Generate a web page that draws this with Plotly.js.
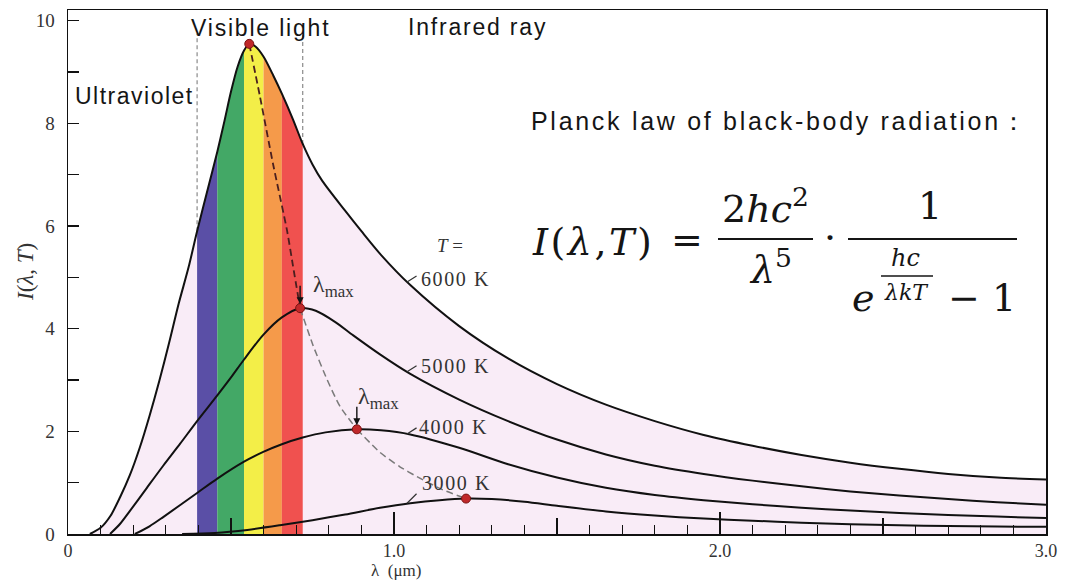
<!DOCTYPE html>
<html><head><meta charset="utf-8">
<script src="https://cdn.plot.ly/plotly-3.0.1.min.js"></script>
<style>html,body{margin:0;padding:0;background:#fff}</style>
</head><body>
<div id="chart" style="width:1067px;height:580px"></div>
<script>
// ---- data ----
const lam6000 = [0.067,0.10,0.13,0.16,0.19,0.22,0.25,0.28,0.31,0.34,0.37,0.396,0.43,0.458,0.48,0.50,0.52,0.54,0.556,0.575,0.60,0.63,0.656,0.69,0.72,0.75,0.78,0.85,0.90,0.96,1.05,1.2,1.35,1.5,1.65,1.8,1.95,2.1,2.25,2.4,2.55,2.7,2.85,3.0];
const I6000   = [0,0.12,0.35,0.72,1.15,1.68,2.3,2.98,3.72,4.5,5.2,5.9,6.75,7.45,8.05,8.62,9.1,9.42,9.55,9.5,9.3,8.93,8.58,8.08,7.6,7.2,6.88,6.3,5.9,5.44,4.85,4.05,3.42,2.92,2.52,2.2,1.93,1.72,1.54,1.39,1.27,1.17,1.10,1.06];
const lam5000 = [0.129,0.16,0.19,0.242,0.292,0.344,0.396,0.458,0.50,0.54,0.599,0.656,0.712,0.76,0.82,0.875,0.957,1.05,1.2,1.35,1.5,1.65,1.8,1.95,2.1,2.25,2.4,2.55,2.7,2.85,3.0];
const I5000   = [0,0.2,0.45,0.9,1.33,1.76,2.2,2.7,3.05,3.4,3.88,4.22,4.40,4.35,4.13,3.87,3.5,3.12,2.62,2.2,1.84,1.55,1.33,1.17,1.04,0.93,0.83,0.75,0.68,0.62,0.57];
const lam4000 = [0.205,0.25,0.292,0.396,0.458,0.54,0.599,0.656,0.72,0.79,0.886,0.96,1.05,1.2,1.35,1.5,1.65,1.8,1.95,2.1,2.25,2.4,2.55,2.7,2.85,3.0];
const I4000   = [0,0.15,0.33,0.8,1.08,1.41,1.6,1.75,1.88,1.98,2.04,2.02,1.94,1.68,1.36,1.1,0.9,0.76,0.66,0.58,0.51,0.46,0.41,0.37,0.34,0.31];
const lam3000 = [0.35,0.45,0.55,0.65,0.75,0.85,0.957,1.05,1.14,1.221,1.3,1.4,1.5,1.65,1.8,1.95,2.1,2.25,2.4,2.55,2.7,2.85,3.0];
const I3000   = [0,0.02,0.08,0.17,0.27,0.38,0.51,0.6,0.66,0.69,0.68,0.63,0.55,0.44,0.36,0.3,0.26,0.22,0.19,0.17,0.155,0.145,0.14];

const peakLam = [0.556, 0.712, 0.886, 1.221];
const peakI   = [9.55, 4.40, 2.04, 0.69];

const wienLamA = [0.556,0.589,0.629,0.672,0.69,0.712];
const wienIA   = [9.55,8.52,7.21,5.91,5.23,4.40];
const wienLamB = [0.712,0.752,0.794,0.834,0.886];
const wienIB   = [4.40,3.67,3.02,2.49,2.04];
const wienLamC = [0.886,0.957,1.018,1.07,1.15,1.221];
const wienIC   = [2.04,1.59,1.31,1.12,0.86,0.69];

const bandEdges  = [0.396, 0.458, 0.54, 0.60, 0.656, 0.72];
const bandColors = ['#5a4fa6', '#43a866', '#f3ee48', '#f59a4a', '#f0514f'];
const visibleEdges = [0.396, 0.72];
const visibleTop = 9.75;

const tempLabels = ['6000 K', '5000 K', '4000 K', '3000 K'];
const labelLam = 1.04;
const labelCurveI = [4.91, 3.16, 1.95, 0.6];

const xTickVals = [0, 1, 2, 3];
const xTickText = ['0', '1.0', '2.0', '3.0'];
const xHalfTicks = [0.5, 1.5, 2.5];
const yTickVals = [0,1,2,3,4,5,6,7,8,9,10];
const yTickText = ['0','','2','','4','','6','','8','','10'];

// ---- geometry ----
const W = 1067, H = 580, ML = 68, MR = 21, MT = 10, MB = 46;
const PW = W - ML - MR, PH = H - MT - MB;
const px = v => (v - ML) / PW;
const py = v => (H - MB - v) / PH;
const yTop = 10.21;

const SERIF = 'Liberation Serif, Times New Roman, serif';
const SANS = 'Liberation Sans, Arial, sans-serif';
const MATH = 'DejaVu Serif, serif';

const SM = 0.8;
const traces = [];
// pink area under 6000 K
traces.push({x: lam6000, y: I6000, mode: 'lines', fill: 'tozeroy', fillcolor: '#f9ecf7',
  line: {width: 0, shape: 'spline', smoothing: SM}, hoverinfo: 'skip', showlegend: false});
// visible-spectrum bands clipped by 6000 K curve
for (let i = 0; i < bandColors.length; i++) {
  const bx = [], by = [];
  lam6000.forEach((l, k) => { if (l >= bandEdges[i] - 1e-9 && l <= bandEdges[i+1] + 1e-9) { bx.push(l); by.push(I6000[k]); } });
  traces.push({x: bx, y: by, mode: 'lines', fill: 'tozeroy', fillcolor: bandColors[i],
    line: {width: 0, color: bandColors[i], shape: 'spline', smoothing: SM}, hoverinfo: 'skip', showlegend: false});
}
// dashed boundaries of visible light
visibleEdges.forEach(e => {
  const k = lam6000.indexOf(e);
  traces.push({x: [e, e], y: [I6000[k], visibleTop], mode: 'lines',
    line: {color: '#8a8a8a', width: 1.2, dash: '4px,3px'}, hoverinfo: 'skip', showlegend: false});
});
// curves
[[lam6000, I6000], [lam5000, I5000], [lam4000, I4000], [lam3000, I3000]].forEach(([lx, ly]) => {
  traces.push({x: lx, y: ly, mode: 'lines', line: {color: '#111', width: 2, shape: 'spline', smoothing: SM},
    hoverinfo: 'skip', showlegend: false});
});
// Wien displacement dashed path
traces.push({x: wienLamA, y: wienIA, mode: 'lines', line: {color: '#4a1f1f', width: 1.8, dash: '7px,4px', shape: 'spline', smoothing: 0.6}, hoverinfo: 'skip', showlegend: false});
traces.push({x: wienLamB, y: wienIB, mode: 'lines', line: {color: '#7a7a7a', width: 1.5, dash: '7px,4px', shape: 'spline', smoothing: 0.6}, hoverinfo: 'skip', showlegend: false});
traces.push({x: wienLamC, y: wienIC, mode: 'lines', line: {color: '#7a7a7a', width: 1.5, dash: '7px,4px', shape: 'spline', smoothing: 0.6}, hoverinfo: 'skip', showlegend: false});
// peak dots
traces.push({x: peakLam, y: peakI, mode: 'markers', marker: {size: 9, color: '#c0282a', line: {color: '#7a1212', width: 1}},
  hoverinfo: 'skip', showlegend: false});
// helper traces for overlay tick axes
traces.push({x: [0, 3], y: [0, 0], xaxis: 'x2', mode: 'none', hoverinfo: 'skip', showlegend: false});
traces.push({x: [0, 3], y: [0, 0], xaxis: 'x3', mode: 'none', hoverinfo: 'skip', showlegend: false});

const ls = (s, sp) => '<span style="letter-spacing:' + sp + 'px">' + s + '</span>';
const ann = [];
function txt(text, x, y, size, family, extra, color) {
  ann.push(Object.assign({text: text, xref: 'paper', yref: 'paper', x: px(x), y: py(y), showarrow: false,
    xanchor: 'center', yanchor: 'middle', font: {size: size, family: family, color: color || '#151515'}}, extra || {}));
}
// region labels
txt(ls('Visible light', 1.8), 260, 28, 23, SANS);
txt(ls('Infrared ray', 1.8), 477, 27, 23, SANS);
txt(ls('Ultraviolet', 1.5), 134, 96, 23, SANS);
txt(ls('Planck law of black-body radiation', 2.7) + '：', 778, 121, 25, SANS);
// temperature labels
txt('<i>T</i> =', 450, 245, 19, SERIF, null, '#333');
const labelPix = [[455, 279], [455, 366], [453, 427], [456, 483]];
tempLabels.forEach((t, i) => {
  txt(ls(t, 1.6), labelPix[i][0], labelPix[i][1], 20, SERIF, null, '#333');
  ann.push({x: labelLam, y: labelCurveI[i], xref: 'x', yref: 'y', text: '', showarrow: true, arrowhead: 0,
    arrowwidth: 1.2, arrowcolor: '#333', ax: 11, ay: i === 3 ? -11 : -7});
});
// lambda max arrows
const lmaxPix = [[333, 286], [378, 398]];
[1, 2].forEach((k, j) => {
  ann.push({x: peakLam[k], y: peakI[k], xref: 'x', yref: 'y', text: '', showarrow: true, arrowhead: 2,
    arrowsize: 1, arrowwidth: 1.4, arrowcolor: '#111', ax: 0, ay: -24, standoff: 4});
  txt('λ<sub>max</sub>', lmaxPix[j][0], lmaxPix[j][1], 24, SERIF, null, '#333');
});
// axis titles
txt('λ  (μm)', 396, 570, 17, SERIF, null, '#333');
txt('<i>I</i>(<i>λ</i>, <i>T</i>)', 25, 272, 23, SERIF, {textangle: -90}, '#333');
// formula
const FS = 38;
txt(ls('<i>I</i>(<i>λ</i>,<i>T</i>)', 2.5), 593, 242, FS, MATH);
txt('=', 687, 240, FS, MATH);
txt('2<i>hc</i><sup>2</sup>', 765, 206, FS, MATH);
txt('<i>λ</i><sup>5</sup>', 770, 267, FS, MATH);
txt('·', 830, 238, FS, MATH);
txt('1', 930, 206, FS, MATH);
txt('<i>e</i>', 863, 298, FS, MATH);
txt('<i>hc</i>', 905, 258, 24, MATH);
txt('<i>λkT</i>', 906, 292, 22, MATH);
txt('− 1', 982, 298, FS, MATH);

const shapes = [
  {type: 'line', xref: 'paper', yref: 'paper', x0: px(718), x1: px(813), y0: py(239), y1: py(239), line: {color: '#151515', width: 2}},
  {type: 'line', xref: 'paper', yref: 'paper', x0: px(848), x1: px(1017), y0: py(239), y1: py(239), line: {color: '#151515', width: 2}},
  {type: 'line', xref: 'paper', yref: 'paper', x0: px(881), x1: px(933), y0: py(276), y1: py(276), line: {color: '#151515', width: 1.5}}
];

const tickFont = {family: SERIF, size: 18, color: '#333'};
const layout = {
  width: W, height: H,
  margin: {l: ML, r: MR, t: MT, b: MB, pad: 0},
  paper_bgcolor: '#fff', plot_bgcolor: '#fff',
  showlegend: false,
  xaxis: {range: [0, 3], showgrid: false, zeroline: false, showline: true, mirror: true, linecolor: '#111', linewidth: 1.5,
    tickmode: 'array', tickvals: xTickVals, ticktext: xTickText, ticks: 'inside', ticklen: 22, tickwidth: 1.5, tickcolor: '#111',
    tickfont: tickFont, ticklabelstandoff: 0},
  xaxis2: {range: [0, 3], overlaying: 'x', anchor: 'y', side: 'bottom', showgrid: false, zeroline: false, showline: false,
    tickmode: 'array', tickvals: xHalfTicks, ticks: 'inside', ticklen: 16, tickwidth: 1.5, tickcolor: '#111', showticklabels: false},
  xaxis3: {range: [0, 3], overlaying: 'x', anchor: 'y', side: 'bottom', showgrid: false, zeroline: false, showline: false,
    tickmode: 'linear', tick0: 0, dtick: 0.1, ticks: 'inside', ticklen: 9, tickwidth: 1.3, tickcolor: '#111', showticklabels: false},
  yaxis: {range: [0, yTop], showgrid: false, zeroline: false, showline: true, mirror: true, linecolor: '#111', linewidth: 1.5,
    tickmode: 'array', tickvals: yTickVals, ticktext: yTickText, ticks: 'inside', ticklen: 11, tickwidth: 1.4, tickcolor: '#111',
    tickfont: {family: SERIF, size: 19, color: '#333'}, ticklabelstandoff: 8},
  annotations: ann,
  shapes: shapes
};
Plotly.newPlot('chart', traces, layout, {staticPlot: true, displayModeBar: false});
</script>
</body></html>
